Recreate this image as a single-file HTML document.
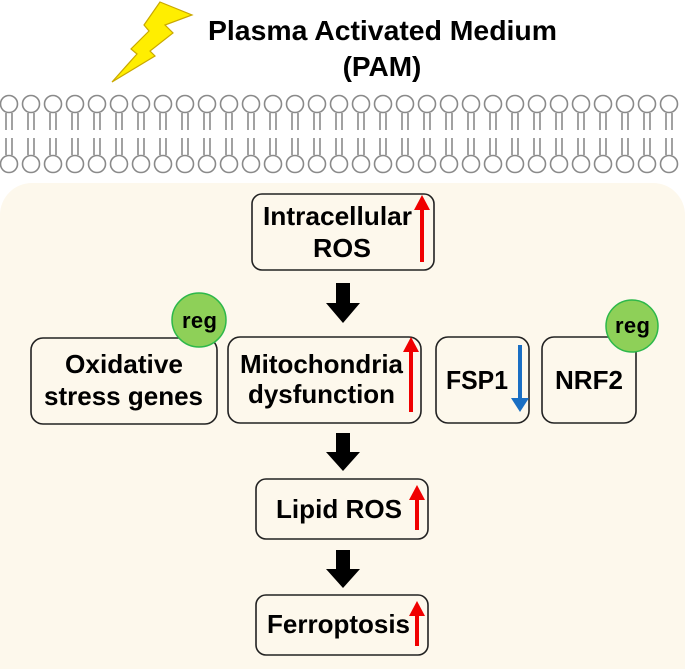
<!DOCTYPE html>
<html><head><meta charset="utf-8"><style>html,body{margin:0;padding:0;background:#fff;overflow:hidden}svg{display:block}</style></head>
<body>
<svg width="685" height="669" viewBox="0 0 685 669" xmlns="http://www.w3.org/2000/svg" font-family="Liberation Sans, Arial, sans-serif" font-weight="bold" style="overflow:hidden">
<defs>
<g id="lip" fill="none" stroke="#8a8a8a" stroke-width="1.6">
<circle cx="0" cy="104" r="8.5" fill="#fff"/>
<circle cx="0" cy="164" r="8.5" fill="#fff"/>
<path d="M-3 113V130M3 113V130M-3 138V155M3 138V155"/>
</g>
</defs>
<polygon points="160,2 192,15 165,25 173,33 150,51 155,56 112,82 137,54 131,49 149,31 144,25" fill="#ffee00" stroke="#c9a800" stroke-width="1.2"/>
<text x="208" y="40" font-size="28" textLength="349" lengthAdjust="spacingAndGlyphs">Plasma Activated Medium</text>
<text x="382" y="76" font-size="28" text-anchor="middle">(PAM)</text>
<g>
<use href="#lip" x="9"/><use href="#lip" x="31"/><use href="#lip" x="53"/><use href="#lip" x="75"/><use href="#lip" x="97"/><use href="#lip" x="119"/><use href="#lip" x="141"/><use href="#lip" x="163"/><use href="#lip" x="185"/><use href="#lip" x="207"/><use href="#lip" x="229"/><use href="#lip" x="251"/><use href="#lip" x="273"/><use href="#lip" x="295"/><use href="#lip" x="317"/><use href="#lip" x="339"/><use href="#lip" x="361"/><use href="#lip" x="383"/><use href="#lip" x="405"/><use href="#lip" x="427"/><use href="#lip" x="449"/><use href="#lip" x="471"/><use href="#lip" x="493"/><use href="#lip" x="515"/><use href="#lip" x="537"/><use href="#lip" x="559"/><use href="#lip" x="581"/><use href="#lip" x="603"/><use href="#lip" x="625"/><use href="#lip" x="647"/><use href="#lip" x="669"/>
</g>
<path d="M0 669V215A32 32 0 0 1 32 183H653A32 32 0 0 1 685 215V669Z" fill="#fdf8ec"/>
<g fill="none" stroke="#222" stroke-width="1.6">
<rect x="252" y="194" width="182" height="76" rx="10"/>
<rect x="31" y="338" width="186" height="86" rx="12"/>
<rect x="228" y="337" width="193" height="86" rx="12"/>
<rect x="436" y="337" width="93" height="86" rx="12"/>
<rect x="542" y="337" width="94" height="86" rx="12"/>
<rect x="256" y="479" width="172" height="60" rx="10"/>
<rect x="256" y="595" width="172" height="60" rx="10"/>
</g>
<circle cx="199" cy="320" r="27" fill="#8ed058" stroke="#2db84a" stroke-width="1.5"/>
<circle cx="632" cy="326" r="26" fill="#8ed058" stroke="#2db84a" stroke-width="1.5"/>
<g font-size="22" fill="#000" lengthAdjust="spacingAndGlyphs">
<text x="182" y="328" textLength="35">reg</text>
<text x="615" y="333" textLength="35">reg</text>
</g>
<g font-size="26" fill="#000">
<text x="263" y="225" textLength="149" lengthAdjust="spacingAndGlyphs">Intracellular</text>
<text x="313" y="257" textLength="58" lengthAdjust="spacingAndGlyphs">ROS</text>
<text x="65" y="373" textLength="118" lengthAdjust="spacingAndGlyphs">Oxidative</text>
<text x="44" y="405" textLength="159" lengthAdjust="spacingAndGlyphs">stress genes</text>
<text x="240" y="373" textLength="163" lengthAdjust="spacingAndGlyphs">Mitochondria</text>
<text x="248" y="403" textLength="147" lengthAdjust="spacingAndGlyphs">dysfunction</text>
<text x="446" y="389" textLength="62" lengthAdjust="spacingAndGlyphs">FSP1</text>
<text x="555" y="389" textLength="68" lengthAdjust="spacingAndGlyphs">NRF2</text>
<text x="276" y="518" textLength="126" lengthAdjust="spacingAndGlyphs">Lipid ROS</text>
<text x="267" y="633" textLength="143" lengthAdjust="spacingAndGlyphs">Ferroptosis</text>
</g>
<g fill="#f00000">
<rect x="420" y="208" width="4" height="54"/><polygon points="414,210 430,210 422,195"/>
<rect x="409" y="350" width="4" height="62"/><polygon points="403,352 419,352 411,337"/>
<rect x="415" y="498" width="4" height="32"/><polygon points="409,500 425,500 417,485"/>
<rect x="415" y="614" width="4" height="32"/><polygon points="409,616 425,616 417,601"/>
</g>
<g fill="#1a6fc4">
<rect x="518" y="345" width="4" height="55"/><polygon points="511,398 529,398 520,412"/>
</g>
<g fill="#000">
<rect x="336" y="283" width="14" height="20"/><polygon points="326,303 360,303 343,323"/>
<rect x="336" y="433" width="14" height="19"/><polygon points="326,452 360,452 343,471"/>
<rect x="336" y="550" width="14" height="19"/><polygon points="326,569 360,569 343,588"/>
</g>
</svg>
</body></html>
